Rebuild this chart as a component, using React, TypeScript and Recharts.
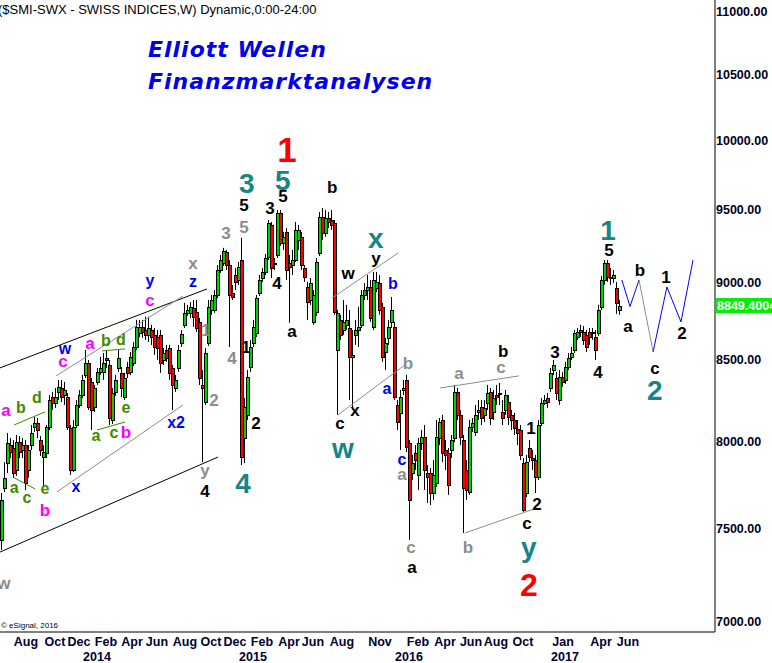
import React from "react";
import { ComposedChart, Bar, Scatter, XAxis, YAxis, ReferenceLine } from "recharts";

const FONT = "'Liberation Sans', Arial, sans-serif";

// SMI weekly candles, Jul 2013 .. Jun 2017
const opens = [
  7438, 7730, 7874, 7980, 7963, 7834, 7998, 7951, 7980, 7834, 7980, 8088, 8112, 8010, 7910, 7933, 8088, 8269, 8233, 8301,
  8325, 8282, 8269, 8082, 7834, 8100, 8221, 8282, 8406, 8481, 8363, 8209, 8363, 8425, 8425, 8513, 8469, 8130, 8301, 8450,
  8419, 8269, 8456, 8425, 8481, 8582, 8672, 8710, 8691, 8659, 8691, 8659, 8646, 8659, 8500, 8563, 8576, 8450, 8325, 8450,
  8608, 8724, 8802, 8802, 8834, 8808, 8743, 8344, 8239, 8608, 8821, 8821, 8919, 9086, 9133, 9208, 9119, 8932, 9052, 9019,
  9153, 8022, 8161, 8456, 8608, 8672, 8932, 9032, 9073, 9174, 9394, 9133, 9187, 9478, 9270, 9346, 9133, 9119, 9153, 9291,
  9312, 9099, 8972, 8886, 8743, 8808, 9201, 9450, 9339, 9443, 9429, 9408, 8563, 8756, 8691, 8724, 8704, 8519, 8659, 8691,
  8724, 8919, 8952, 8972, 8710, 8966, 8999, 8841, 8550, 8640, 8743, 8710, 8221, 8173, 8313, 8375, 7992, 7817, 7933, 7805,
  7992, 8028, 7817, 7817, 7702, 7760, 8022, 8130, 7951, 7933, 7951, 8022, 8301, 8161, 8010, 7834, 7708, 8088, 8058, 8179,
  8209, 8161, 8233, 8301, 8179, 8282, 8294, 8179, 8191, 8239, 8161, 8130, 8076, 8070, 7874, 7702, 7963, 7904, 7892, 7794,
  8112, 8233, 8263, 8325, 8437, 8387, 8251, 8394, 8375, 8456, 8519, 8563, 8646, 8678, 8678, 8659, 8678, 8678, 8646, 8672,
  8841, 9019, 9133, 9039, 9032, 8966, 8821,
];
const highs = [
  7702, 7880, 8052, 8022, 8010, 8040, 8034, 8022, 8010, 7980, 8100, 8148, 8142, 8034, 7980, 8100, 8282, 8301, 8325, 8375,
  8375, 8363, 8294, 8100, 8130, 8251, 8313, 8406, 8563, 8500, 8387, 8344, 8450, 8519, 8544, 8563, 8500, 8325, 8406, 8563,
  8456, 8419, 8488, 8550, 8614, 8756, 8756, 8756, 8776, 8776, 8724, 8704, 8691, 8691, 8576, 8595, 8595, 8469, 8406, 8595,
  8691, 8867, 8854, 8873, 8886, 8886, 8769, 8437, 8576, 8886, 8919, 8952, 9119, 9187, 9236, 9222, 9153, 8986, 9099, 9140,
  9305, 8263, 8437, 8627, 8756, 8919, 9052, 9099, 9194, 9429, 9415, 9167, 9499, 9499, 9346, 9373, 9187, 9222, 9415, 9394,
  9346, 9119, 9006, 9032, 8952, 9167, 9485, 9513, 9499, 9485, 9499, 9429, 8821, 8789, 8886, 8854, 8821, 8691, 8756, 8841,
  8952, 8999, 9052, 9019, 9073, 9073, 9052, 8867, 8640, 8756, 8906, 8743, 8251, 8313, 8375, 8406, 8010, 7922, 7980, 8022,
  8070, 8100, 7863, 7846, 7892, 8130, 8142, 8161, 8010, 7963, 8040, 8344, 8325, 8191, 8040, 7892, 8130, 8142, 8221, 8251,
  8251, 8251, 8344, 8325, 8313, 8344, 8356, 8251, 8313, 8282, 8191, 8173, 8130, 8100, 7904, 7922, 8010, 7951, 7922, 8130,
  8263, 8282, 8294, 8450, 8500, 8425, 8437, 8425, 8488, 8544, 8582, 8691, 8704, 8724, 8717, 8691, 8704, 8704, 8691, 8854,
  9046, 9153, 9153, 9099, 9086, 9006, 8886,
];
const lows = [
  7383, 7708, 7817, 7904, 7789, 7800, 7904, 7904, 7719, 7789, 7951, 8058, 8022, 7916, 7736, 7904, 8070, 8191, 8203, 8251,
  8239, 8221, 8070, 7805, 7823, 8082, 8203, 8263, 8387, 8191, 8070, 8179, 8344, 8406, 8375, 8450, 8100, 8106, 8276, 8425,
  8269, 8251, 8387, 8406, 8462, 8563, 8646, 8640, 8627, 8614, 8595, 8532, 8500, 8419, 8469, 8488, 8375, 8191, 8301, 8425,
  8582, 8704, 8782, 8769, 8710, 8678, 8344, 7880, 8221, 8589, 8789, 8802, 8899, 9066, 9113, 9086, 8582, 8886, 8952, 8986,
  7863, 7874, 8130, 8425, 8582, 8646, 8912, 9006, 9052, 9153, 9032, 9086, 9167, 9250, 9222, 9019, 8737, 9052, 9140, 9222,
  9086, 9006, 8756, 8854, 8724, 8782, 9180, 9291, 9312, 9373, 9359, 8789, 8161, 8627, 8659, 8691, 8251, 8191, 8595, 8582,
  8704, 8886, 8886, 8743, 8691, 8939, 8789, 8488, 8437, 8595, 8704, 8251, 8070, 7951, 8282, 7939, 7438, 7777, 7834, 7719,
  7951, 7719, 7645, 7634, 7662, 7736, 7980, 7880, 7834, 7691, 7904, 7998, 8130, 7980, 7477, 7662, 7691, 8058, 8034, 8130,
  8100, 8118, 8191, 8100, 8130, 8221, 8221, 8100, 8161, 8100, 8070, 8040, 7980, 7892, 7595, 7679, 7880, 7834, 7702, 7777,
  8094, 8221, 8203, 8301, 8406, 8251, 8221, 8332, 8350, 8437, 8500, 8544, 8627, 8646, 8595, 8550, 8595, 8627, 8500, 8652,
  8821, 8986, 9006, 8986, 8999, 8795, 8789,
];
const closes = [
  7662, 7789, 7992, 7939, 7817, 7998, 7939, 7980, 7760, 7951, 8052, 8112, 8070, 7951, 7939, 8088, 8251, 8233, 8269, 8332,
  8269, 8313, 8088, 7834, 8088, 8221, 8282, 8375, 8481, 8209, 8191, 8325, 8425, 8450, 8481, 8500, 8142, 8294, 8375, 8513,
  8325, 8387, 8419, 8519, 8582, 8710, 8710, 8678, 8659, 8704, 8646, 8582, 8576, 8481, 8544, 8513, 8419, 8344, 8375, 8563,
  8665, 8802, 8821, 8841, 8776, 8704, 8387, 8325, 8544, 8841, 8886, 8919, 9086, 9153, 9215, 9119, 8919, 8906, 9006, 9106,
  7910, 8209, 8394, 8582, 8710, 8899, 9019, 9073, 9167, 9408, 9099, 9126, 9478, 9270, 9312, 9086, 9106, 9153, 9359, 9359,
  9119, 9039, 8873, 8999, 8919, 9140, 9450, 9339, 9443, 9415, 9394, 8808, 8802, 8659, 8743, 8756, 8519, 8532, 8691, 8710,
  8919, 8952, 8972, 8769, 9019, 9006, 8821, 8519, 8608, 8710, 8821, 8269, 8118, 8269, 8325, 7969, 7662, 7874, 7892, 7992,
  8028, 7834, 7794, 7702, 7805, 8028, 8118, 7933, 7922, 7748, 8010, 8301, 8161, 8028, 7730, 7719, 8088, 8112, 8161, 8191,
  8142, 8203, 8294, 8142, 8263, 8269, 8285, 8142, 8282, 8148, 8130, 8082, 8052, 7922, 7606, 7880, 7910, 7892, 7794, 8100,
  8233, 8251, 8239, 8419, 8469, 8294, 8394, 8363, 8456, 8513, 8544, 8672, 8678, 8691, 8627, 8582, 8646, 8672, 8563, 8821,
  9019, 9133, 9039, 9032, 9052, 8867, 8849.4004,
];

const candles = opens.map((o, i) => ({
  x: i + 0.5,
  range: [lows[i], highs[i]],
  open: o,
  high: highs[i],
  low: lows[i],
  close: closes[i],
}));
const lastClose = closes[closes.length - 1];

const priceTicks = [7000, 7500, 8000, 8500, 9000, 9500, 10000, 10500, 11000];

// axis labels, position in weeks from the first bar
const monthTicks: [number, string][] = [
  [8.67, "Aug"], [18.33, "Oct"], [26.33, "Dec"], [35.33, "Feb"], [44, "Apr"], [52.33, "Jun"],
  [61.67, "Aug"], [70.33, "Oct"], [78.33, "Dec"], [87.33, "Feb"], [96.33, "Apr"], [104.33, "Jun"],
  [114, "Aug"], [126.67, "Nov"], [139.33, "Feb"], [148.33, "Apr"], [157, "Jun"], [165.33, "Aug"],
  [174.33, "Oct"], [187.67, "Jan"], [200.33, "Apr"], [209.33, "Jun"],
];
const yearTicks: [number, string][] = [[32.33, "2014"], [84.33, "2015"], [136.33, "2016"], [188.33, "2017"]];

// wave count: [week, price, text, degree]
const waveLabels: [number, number, string, string][] = [
  [2, 8191, "a", "magenta"], [7, 8209, "b", "green"], [12.3, 8269, "d", "green"],
  [4.7, 7736, "a", "green"], [9, 7679, "c", "green"], [15, 7730, "e", "green"], [15, 7606, "b", "magenta"],
  [25.3, 7742, "x", "blue"], [21.7, 8570, "w", "blue"], [21, 8494, "c", "magenta"],
  [30, 8608, "a", "magenta"], [35.3, 8621, "b", "green"], [40.3, 8633, "d", "green"],
  [32, 8040, "a", "green"], [38, 8058, "c", "green"], [42, 8209, "e", "green"], [42, 8058, "b", "magenta"],
  [1.3, 7206, "w", "grey"], [50, 9019, "y", "blue"], [50, 8886, "c", "magenta"],
  [64.3, 9133, "x", "grey"], [64.3, 9006, "z", "blue"], [58.7, 8118, "x2", "blue"],
  [68.7, 8691, "1", "grey"], [71.3, 8251, "2", "grey"], [75.3, 9339, "3", "grey"], [77.3, 8513, "4", "grey"],
  [81.3, 9380, "5", "grey"], [81.3, 9535, "5", "black"], [82.3, 9692, "3", "teal"],
  [68.3, 7834, "y", "grey"], [68.3, 7713, "4", "black"], [82, 8582, "1", "black"], [81, 7760, "4", "teal"],
  [95.7, 9931, "1", "red"], [94.3, 9713, "5", "teal"], [90, 9513, "3", "black"], [94.3, 9598, "5", "black"],
  [110.7, 9662, "b", "black"], [92.3, 8999, "4", "black"], [97.3, 8685, "a", "black"], [85.3, 8112, "2", "black"],
  [116, 9066, "w", "black"], [113.3, 8112, "c", "black"], [114.3, 7963, "w", "teal"], [118.3, 8191, "x", "black"],
  [125.3, 9305, "x", "teal"], [125.3, 9167, "y", "black"], [131, 8999, "b", "blue"], [129, 8325, "a", "blue"],
  [136, 8481, "b", "grey"], [134, 7898, "c", "blue"], [134, 7811, "a", "grey"], [137, 7399, "c", "grey"],
  [137.3, 7291, "a", "black"], [153, 8419, "a", "grey"], [156, 7399, "b", "grey"],
  [167.7, 8557, "b", "black"], [167, 8456, "c", "grey"], [177, 8082, "1", "black"], [179, 7640, "2", "black"],
  [175.7, 7533, "c", "black"], [176.3, 7399, "y", "teal"], [176.3, 7194, "2", "red2"], [185, 8551, "3", "black"],
  [202.7, 9359, "1", "teal"], [203, 9222, "5", "black"], [213.3, 9086, "b", "black"], [209.3, 8717, "a", "black"],
  [222, 9039, "1", "black"], [227.3, 8672, "2", "black"], [218.3, 8450, "c", "black"], [218.3, 8313, "2", "teal"],
  [199.3, 8425, "4", "black"],
];

const degree: Record<string, { color: string; size: number }> = {
  black: { color: "#000000", size: 17 },
  grey: { color: "#8c8c8c", size: 17 },
  blue: { color: "#0000ff", size: 16 },
  magenta: { color: "#ff00ff", size: 17 },
  green: { color: "#3c8c00", size: 16 },
  teal: { color: "#158585", size: 28 },
  red: { color: "#ff0000", size: 35 },
  red2: { color: "#ff0000", size: 32 },
};

// channel / triangle lines: [week1, price1, week2, price2, colour]
const channelLines: [number, number, number, number, string][] = [
  [0, 8450, 69, 8959, "#000000"],
  [0, 7372, 72.7, 7910, "#000000"],
  [18.7, 8400, 61, 8912, "#8c8c8c"],
  [19, 7708, 61, 8221, "#8c8c8c"],
  [4.7, 8100, 15, 8179, "#3c8c00"],
  [4.7, 7789, 11.7, 7725, "#3c8c00"],
  [34, 8557, 41.7, 8570, "#3c8c00"],
  [32.3, 8070, 41.7, 8118, "#3c8c00"],
  [110.7, 8899, 132.7, 9201, "#8c8c8c"],
  [112.7, 8161, 135, 8469, "#8c8c8c"],
  [146.7, 8325, 173, 8400, "#8c8c8c"],
  [155, 7477, 179, 7617, "#8c8c8c"],
];

// projected path: [week, price] turning points, blue / grey / blue legs
const forecastA: [number, number][] = [[207.3, 9019], [210, 8843], [213, 9019]];
const forecastB: [number, number][] = [[213, 9019], [217.7, 8551]];
const forecastC: [number, number][] = [[217.7, 8551], [222.3, 8972], [227, 8743], [231, 9153]];

const legs = (pts: [number, number][], color: string) =>
  pts.slice(1).map((p, i) => [pts[i][0], pts[i][1], p[0], p[1], color] as [number, number, number, number, string]);
const forecastLines = [...legs(forecastA, "#0000ff"), ...legs(forecastB, "#8c8c8c"), ...legs(forecastC, "#0000ff")];

const labelData = waveLabels.map(([x, y, text, deg]) => ({ x, y, text, deg }));

const Candle = (props: any) => {
  const { x, y, width, height, payload } = props;
  if (!payload || height == null) return null;
  const { open, close, high, low } = payload;
  const h = Math.abs(height);
  const top = Math.min(y, y + height);
  const k = h / Math.log(high / low);
  const py = (v: number) => top + Math.log(high / v) * k;
  const p = Math.floor(x + width / 2);
  const bTop = Math.round(py(Math.max(open, close)));
  const bBot = Math.round(py(Math.min(open, close)));
  const up = close >= open;
  return (
    <g>
      <line x1={p + 0.5} x2={p + 0.5} y1={top} y2={top + h} stroke="#000" strokeWidth={1} />
      {bBot - bTop < 1 ? (
        <line x1={p - 1} x2={p + 3} y1={bTop + 0.5} y2={bTop + 0.5} stroke="#000" strokeWidth={1} />
      ) : (
        <rect x={p - 0.5} y={bTop + 0.5} width={3} height={bBot - bTop} fill={up ? "#00d200" : "#ff0000"} stroke="#000" strokeWidth={1} />
      )}
    </g>
  );
};

const WaveLabel = (props: any) => {
  const { cx, cy, payload } = props;
  const d = degree[payload.deg];
  return (
    <text x={cx} y={cy} dy="0.35em" textAnchor="middle" fontFamily={FONT} fontWeight="bold" fontSize={d.size} fill={d.color}>
      {payload.text}
    </text>
  );
};

const monthMap = new Map(monthTicks);
const yearMap = new Map(yearTicks);
const allTicks = [...monthTicks.map((t) => t[0]), ...yearTicks.map((t) => t[0])];

const DateTick = (props: any) => {
  const { x, payload } = props;
  const m = monthMap.get(payload.value);
  const yr = yearMap.get(payload.value);
  return (
    <g fontFamily={FONT} fontWeight="bold" fontSize={12.5} fill="#000033">
      {m && (
        <text x={x} y={646} textAnchor="middle">
          {m}
        </text>
      )}
      {yr && (
        <text x={x} y={661} textAnchor="middle">
          {yr}
        </text>
      )}
    </g>
  );
};

const PriceTick = (props: any) => {
  const { y, payload } = props;
  return (
    <text x={716} y={y + 4.5} fontFamily={FONT} fontWeight="bold" fontSize={12.5} fill="#000022">
      {Number(payload.value).toFixed(2)}
    </text>
  );
};

const LastPrice = (props: any) => {
  const vy = props.viewBox ? props.viewBox.y : 0;
  return (
    <g>
      <rect x={716} y={vy - 7.5} width={60} height={15} fill="#00ee00" />
      <text x={717} y={vy + 4.5} fontFamily={FONT} fontWeight="bold" fontSize={12.5} fill="#ffffff">
        {lastClose.toFixed(4)}
      </text>
    </g>
  );
};

export default function App() {
  return (
    <div style={{ position: "absolute", left: 0, top: 0, width: 772, height: 663, background: "#fff", overflow: "hidden" }}>
      <ComposedChart width={772} height={663} data={candles} margin={{ top: 0, right: 0, bottom: 0, left: 0 }}>
        <XAxis
          dataKey="x"
          type="number"
          domain={[0, 715 / 3]}
          allowDataOverflow
          ticks={allTicks}
          interval={0}
          tick={<DateTick />}
          tickLine={false}
          axisLine={{ stroke: "#000" }}
          height={31}
        />
        <YAxis
          orientation="right"
          type="number"
          scale="log"
          domain={[6948, 11098]}
          allowDataOverflow
          ticks={priceTicks}
          interval={0}
          tick={<PriceTick />}
          tickLine={false}
          axisLine={{ stroke: "#000" }}
          width={57}
        />
        {[...channelLines, ...forecastLines].map(([x1, y1, x2, y2, c], i) => (
          <ReferenceLine
            key={"ln" + i}
            segment={[{ x: x1, y: y1 }, { x: x2, y: y2 }]}
            stroke={c}
            strokeWidth={1}
            ifOverflow="visible"
          />
        ))}
        <Bar dataKey="range" barSize={3} shape={<Candle />} isAnimationActive={false} />
        <Scatter data={labelData} dataKey="y" shape={<WaveLabel />} isAnimationActive={false} />
        <ReferenceLine y={lastClose} stroke="none" ifOverflow="visible" label={<LastPrice />} />
      </ComposedChart>
      <svg width={772} height={663} style={{ position: "absolute", left: 0, top: 0, pointerEvents: "none" }}>
        <text x={-2} y={14} fontFamily={FONT} fontSize={13} fill="#000">
          ($SMI-SWX - SWISS INDICES,W) Dynamic,0:00-24:00
        </text>
        <g fontFamily="'DejaVu Sans', Verdana, sans-serif" fontWeight="bold" fontStyle="italic" fontSize={22} fill="#0000ee" letterSpacing={1}>
          <text x={148} y={57}>Elliott Wellen</text>
          <text x={148} y={89}>Finanzmarktanalysen</text>
        </g>
        <text x={1} y={628} fontFamily={FONT} fontSize={8} fill="#000">
          © eSignal, 2016
        </text>
      </svg>
    </div>
  );
}
